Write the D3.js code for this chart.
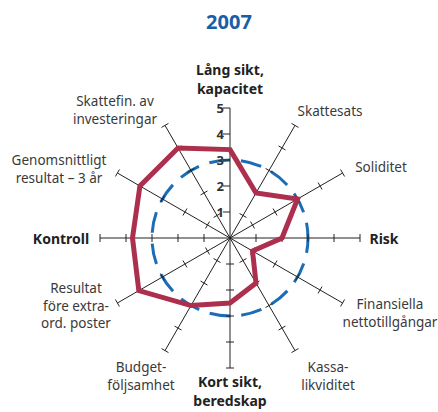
<!DOCTYPE html>
<html>
<head>
<meta charset="utf-8">
<script src="https://cdn.jsdelivr.net/npm/d3@7"></script>
<style>
  body { margin: 0; background: #fff; }
  svg text { font-family: "Noto Sans", sans-serif; }
</style>
</head>
<body>
<svg id="chart" width="438" height="412"></svg>
<script>
const title = "2007";
// axes clockwise from the top
const axisNames = [
  ["Lång sikt,", "kapacitet"], ["Skattesats"], ["Soliditet"], ["Risk"],
  ["Finansiella", "nettotillgångar"], ["Kassa-", "likviditet"], ["Kort sikt,", "beredskap"],
  ["Budget-", "följsamhet"], ["Resultat", "före extra-", "ord. poster"], ["Kontroll"],
  ["Genomsnittligt", "resultat – 3 år"], ["Skattefin. av", "investeringar"]
];
const boldAxes = [0, 3, 6, 9];
const values = [3.4, 2, 3, 2, 1, 2, 2.5, 3, 4.05, 3.75, 4, 4];
const referenceLevel = 3;
const tickValues = [1, 2, 3, 4, 5];

// label anchor points (x, first baseline)
const labelPos = [
  [230, 75], [330, 116], [381, 172], [384, 244],
  [390, 309], [328, 372], [230, 387], [141, 372],
  [76, 293], [61, 244], [59, 165], [115, 106]
];

const cx = 230, cy = 238;
const svg = d3.select("#chart");
const r = d3.scaleLinear().domain([0, 5]).range([0, 130]);
const angle = i => i * Math.PI / 6;
const px = (i, v) => cx + r(v) * Math.sin(angle(i));
const py = (i, v) => cy - r(v) * Math.cos(angle(i));

svg.append("text")
  .attr("x", 229).attr("y", 29)
  .attr("text-anchor", "middle")
  .style("font-size", "20px").style("font-weight", "bold")
  .style("fill", "#1b5ea8")
  .text(title);

// reference circle
svg.append("circle")
  .attr("cx", cx).attr("cy", cy).attr("r", r(referenceLevel))
  .attr("fill", "none")
  .attr("stroke", "#1a6db6").attr("stroke-width", 3)
  .attr("stroke-dasharray", "21 11")
  .attr("stroke-dashoffset", 6);

// axes
const axes = svg.append("g").selectAll("g")
  .data(axisNames.map((d, i) => i))
  .join("g");

axes.append("line")
  .attr("x1", cx).attr("y1", cy)
  .attr("x2", i => px(i, 5)).attr("y2", i => py(i, 5))
  .attr("stroke", "#222").attr("stroke-width", 1);

axes.each(function (i) {
  const g = d3.select(this);
  const nx = Math.cos(angle(i)), ny = Math.sin(angle(i)); // perpendicular
  tickValues.forEach(t => {
    const x = px(i, t), y = py(i, t);
    const a = i === 0 ? 7 : 4, b = i === 0 ? 0 : 4;
    g.append("line")
      .attr("x1", x - nx * a).attr("y1", y - ny * a)
      .attr("x2", x + nx * b).attr("y2", y + ny * b)
      .attr("stroke", "#222").attr("stroke-width", 1);
  });
});

// tick labels on the top axis
svg.append("g").selectAll("text")
  .data(tickValues)
  .join("text")
  .attr("x", 224).attr("y", d => py(0, d) + 5)
  .attr("text-anchor", "end")
  .style("font-size", "13px").style("font-weight", "bold")
  .style("fill", "#333")
  .text(d => d);

// data polygon
const line = d3.lineRadial()
  .angle((d, i) => angle(i))
  .radius(d => r(d))
  .curve(d3.curveLinearClosed);

svg.append("path")
  .attr("transform", `translate(${cx},${cy})`)
  .attr("d", line(values))
  .attr("fill", "none")
  .attr("stroke", "#ad2f4e").attr("stroke-width", 5)
  .attr("stroke-linejoin", "miter");

// axis labels
axisNames.forEach((lines, i) => {
  const bold = boldAxes.includes(i);
  const t = svg.append("text")
    .attr("text-anchor", "middle")
    .style("font-size", bold ? "14px" : "13.5px")
    .style("font-weight", bold ? "bold" : "normal")
    .style("fill", bold ? "#222" : "#3a3a3a");
  lines.forEach((s, k) => {
    t.append("tspan")
      .attr("x", labelPos[i][0])
      .attr("y", labelPos[i][1] + k * (bold ? 18.5 : 17.5))
      .text(s);
  });
});
</script>
</body>
</html>
